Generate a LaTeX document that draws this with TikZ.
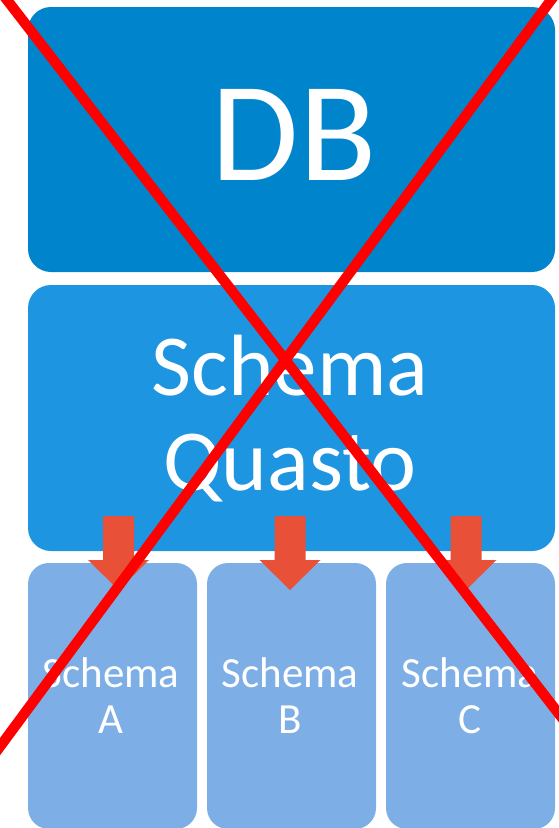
\documentclass[tikz,border=0pt]{standalone}
\usepackage{fontspec}
\setmainfont{Carlito}
\definecolor{dbblue}{RGB}{0,132,204}
\definecolor{sqblue}{RGB}{29,149,224}
\definecolor{scblue}{RGB}{126,174,230}
\definecolor{arrred}{RGB}{232,80,56}
\definecolor{xred}{RGB}{255,0,0}
\begin{document}
\begin{tikzpicture}[x=1pt,y=-1pt,
  box/.style={draw=none,rounded corners=23pt,inner sep=0pt,outer sep=0pt},
  lbl/.style={text=white,anchor=base,inner sep=0pt},
  blk/.style={fill=arrred,draw=none}]
\useasboundingbox (0,0) rectangle (559,828);
\clip (0,0) rectangle (559,828);
% boxes
\node[box,fill=dbblue,minimum width=527pt,minimum height=265pt] (db) at (291.5,139.5) {};
\node[box,fill=sqblue,minimum width=527pt,minimum height=266pt] (sq) at (291.5,418) {};
\node[box,fill=scblue,rounded corners=21pt,minimum width=169pt,minimum height=266pt] (sa) at (112.5,696) {};
\node[box,fill=scblue,rounded corners=21pt,minimum width=169pt,minimum height=266pt] (sb) at (291.5,696) {};
\node[box,fill=scblue,rounded corners=21pt,minimum width=169pt,minimum height=266pt] (sc) at (470.5,696) {};
% labels
\node[lbl,font=\fontsize{142}{142}\selectfont] (tdb) at (294,180) {DB};
\node[lbl,font=\fontsize{87}{87}\selectfont] (tsq1) at (290,395) {Schema};
\node[lbl,font=\fontsize{87}{87}\selectfont] (tsq2) at (290,490) {Quasto};
\node[lbl,font=\fontsize{43}{43}\selectfont] (ta1) at (111,687) {Schema};
\node[lbl,font=\fontsize{43}{43}\selectfont] (ta2) at (111,733) {A};
\node[lbl,font=\fontsize{43}{43}\selectfont] (tb1) at (290,687) {Schema};
\node[lbl,font=\fontsize{43}{43}\selectfont] (tb2) at (290,733) {B};
\node[lbl,font=\fontsize{43}{43}\selectfont] (tc1) at (470,687) {Schema};
\node[lbl,font=\fontsize{43}{43}\selectfont] (tc2) at (470,733) {C};
% block arrows
\foreach \cx in {118.5,290,466}{
  \fill[blk] (\cx-15.5,516) -- (\cx+15.5,516) -- (\cx+15.5,560) -- (\cx+30.5,560)
    -- (\cx,590) -- (\cx-30.5,560) -- (\cx-15.5,560) -- cycle;
}
% red cross
\coordinate (x1a) at (-20.8,-36);
\coordinate (x1b) at (593,758);
\coordinate (x2a) at (577.6,-36);
\coordinate (x2b) at (-29.5,786.6);
\draw[xred,line width=10.3pt] (x1a) -- (x1b);
\draw[xred,line width=10.3pt] (x2a) -- (x2b);
\end{tikzpicture}
\end{document}
